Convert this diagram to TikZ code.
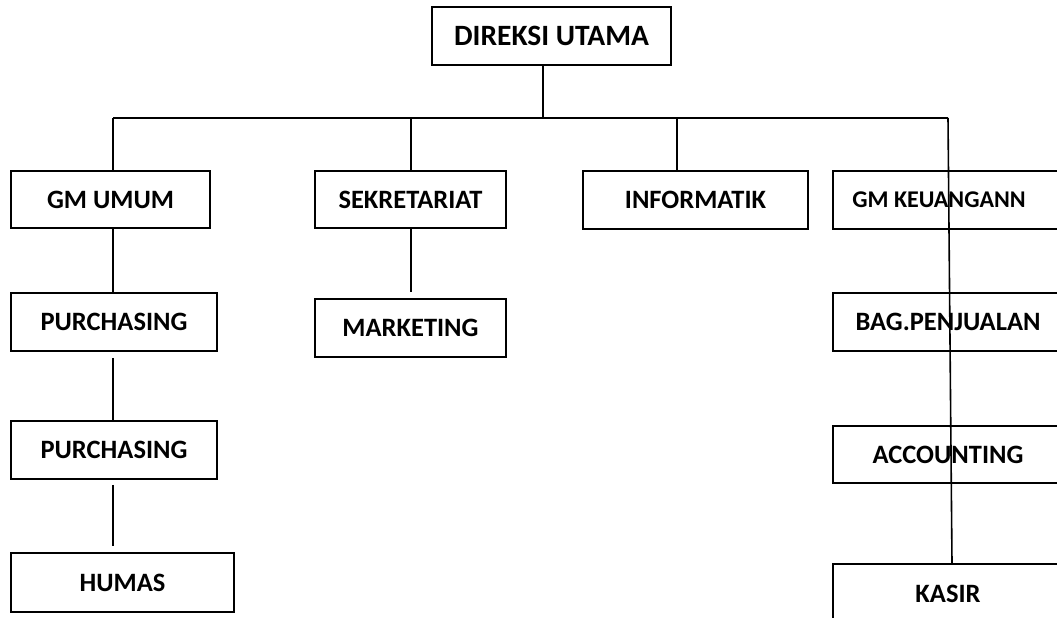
\documentclass[tikz,border=0pt]{standalone}
\usepackage{fontspec}
\setmainfont{Carlito}
\usetikzlibrary{positioning}

\tikzset{
    unit/.style={draw, line width=1.6pt, inner sep=0pt, align=center,
        font=\fontsize{26.5}{31}\selectfont\bfseries},
    link/.style={line width=1.6pt},
}

\begin{document}
\begin{tikzpicture}
    [
        x=1pt,y=-1pt,
    ]
    \clip (0,0) rectangle (1057,618);
    % The boxes
    \node[unit,minimum width=239pt,minimum height=58pt,font=\fontsize{29.5}{34}\selectfont\bfseries] (direksi) at (551.5,36) {DIREKSI UTAMA};
    \node[unit,minimum width=199pt,minimum height=57pt] (gmumum) at (110.5,199.5) {GM UMUM};
    \node[unit,minimum width=206pt,minimum height=58pt] (purch1) at (114,322) {PURCHASING};
    \node[unit,minimum width=206pt,minimum height=58pt] (purch2) at (114,450) {PURCHASING};
    \node[unit,minimum width=223pt,minimum height=59pt] (humas) at (122.5,582.5) {HUMAS};
    \node[unit,minimum width=191pt,minimum height=57pt] (sekr) at (410.5,199.5) {SEKRETARIAT};
    \node[unit,minimum width=191pt,minimum height=58pt] (mark) at (410.5,328) {MARKETING};
    \node[unit,minimum width=225pt,minimum height=58pt] (info) at (695.5,200) {INFORMATIK};
    \node[unit,minimum width=230pt,minimum height=58pt,font=\fontsize{24}{28}\selectfont\bfseries] (gmkeu) at (948,200) {GM KEUANGANN\hspace*{18pt}};
    \node[unit,minimum width=230pt,minimum height=58pt] (penj) at (948,322) {BAG.PENJUALAN};
    \node[unit,minimum width=230pt,minimum height=57pt] (acct) at (948,454.5) {ACCOUNTING};
    \node[unit,minimum width=230pt,minimum height=60pt] (kasir) at (948,594) {KASIR};
    % The bus
    \coordinate (busL) at (113,118);
    \coordinate (busS) at (411,118);
    \coordinate (busD) at (543,118);
    \coordinate (busI) at (677,118);
    \coordinate (busR) at (948,118);
    \draw[link] (busL) -- (busR);
    \draw[link] (busD |- direksi.south) -- (busD);
    \draw[link] (busL) -- (busL |- gmumum.north);
    \draw[link] (busS) -- (busS |- sekr.north);
    \draw[link] (busI) -- (busI |- info.north);
    \draw[link] (busR) -- ([xshift=4pt]kasir.north);
    % Left column
    \draw[link] (busL |- gmumum.south) -- (busL |- purch1.north);
    \draw[link] ([yshift=-6pt]busL |- purch1.south) -- (busL |- purch2.north);
    \draw[link] ([yshift=-5pt]busL |- purch2.south) -- ([yshift=6pt]busL |- humas.north);
    % Middle column
    \draw[link] (busS |- sekr.south) -- ([yshift=6pt]busS |- mark.north);
\end{tikzpicture}
\end{document}
